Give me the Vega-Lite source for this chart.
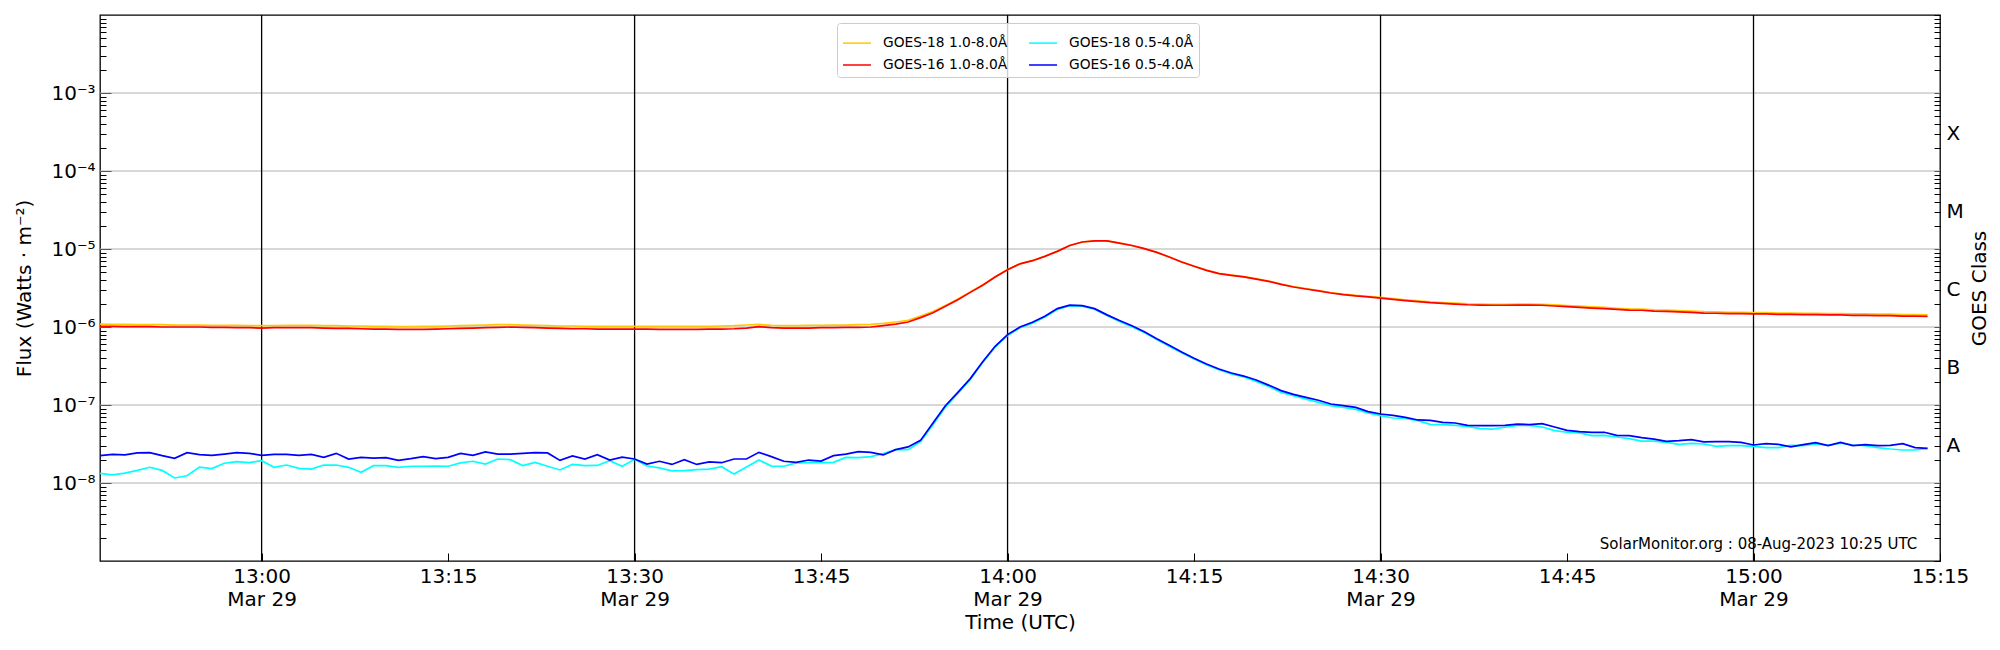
{
  "$schema": "https://vega.github.io/schema/vega-lite/v6.json",
  "width": 1840,
  "height": 546,
  "autosize": {"type": "none"},
  "padding": {"left": 100, "top": 15, "right": 60, "bottom": 89},
  "background": "white",
  "layer": [
    {
      "data": {"values": [{"g": 1e-8}, {"g": 1e-7}, {"g": 1e-6}, {"g": 1e-5}, {"g": 1e-4}, {"g": 1e-3}]},
      "mark": {"type": "rule", "color": "#b0b0b0", "strokeWidth": 1},
      "encoding": {
        "y": {
          "field": "g",
          "type": "quantitative",
          "scale": {"type": "log", "domain": [1e-9, 1e-2], "nice": false},
          "axis": {
            "orient": "left",
            "offset": 0,
            "title": null,
            "labels": false,
            "tickSize": -6,
            "values": [2e-9, 3e-9, 4e-9, 5e-9, 6e-9, 7e-9, 8e-9, 9e-9, 2e-8, 3e-8, 4e-8, 5e-8, 6e-8, 7e-8, 8e-8, 9e-8, 2e-7, 3e-7, 4e-7, 5e-7, 6e-7, 7e-7, 8e-7, 9e-7, 2e-6, 3e-6, 4e-6, 5e-6, 6e-6, 7e-6, 8e-6, 9e-6, 2e-5, 3e-5, 4e-5, 5e-5, 6e-5, 7e-5, 8e-5, 9e-5, 2e-4, 3e-4, 4e-4, 5e-4, 6e-4, 7e-4, 8e-4, 9e-4, 2e-3, 3e-3, 4e-3, 5e-3, 6e-3, 7e-3, 8e-3, 9e-3]
          }
        }
      }
    },
    {
      "data": {
        "values": [
          {"v": "2023-03-29T13:00:00Z"},
          {"v": "2023-03-29T13:30:00Z"},
          {"v": "2023-03-29T14:00:00Z"},
          {"v": "2023-03-29T14:30:00Z"},
          {"v": "2023-03-29T15:00:00Z"}
        ]
      },
      "mark": {"type": "rule", "color": "black", "strokeWidth": 1.3},
      "encoding": {
        "x": {
          "field": "v",
          "type": "temporal",
          "scale": {"type": "utc", "domain": [1680094020000, 1680102900000], "nice": false},
          "axis": null
        }
      }
    },
    {
      "data": {
        "values": [
          {"t": "2023-03-29T12:47:00Z", "g18l": 1.09e-6, "g16l": 1.02e-6, "g18s": 1.33e-8, "g16s": 2.24e-8},
          {"t": "2023-03-29T12:48:00Z", "g18l": 1.08e-6, "g16l": 1.02e-6, "g18s": 1.27e-8, "g16s": 2.33e-8},
          {"t": "2023-03-29T12:49:00Z", "g18l": 1.08e-6, "g16l": 1.01e-6, "g18s": 1.34e-8, "g16s": 2.29e-8},
          {"t": "2023-03-29T12:50:00Z", "g18l": 1.07e-6, "g16l": 1.01e-6, "g18s": 1.45e-8, "g16s": 2.43e-8},
          {"t": "2023-03-29T12:51:00Z", "g18l": 1.07e-6, "g16l": 1.01e-6, "g18s": 1.59e-8, "g16s": 2.45e-8},
          {"t": "2023-03-29T12:52:00Z", "g18l": 1.07e-6, "g16l": 1.00e-6, "g18s": 1.45e-8, "g16s": 2.24e-8},
          {"t": "2023-03-29T12:53:00Z", "g18l": 1.06e-6, "g16l": 1.00e-6, "g18s": 1.16e-8, "g16s": 2.07e-8},
          {"t": "2023-03-29T12:54:00Z", "g18l": 1.06e-6, "g16l": 1.00e-6, "g18s": 1.24e-8, "g16s": 2.45e-8},
          {"t": "2023-03-29T12:55:00Z", "g18l": 1.06e-6, "g16l": 1.00e-6, "g18s": 1.60e-8, "g16s": 2.31e-8},
          {"t": "2023-03-29T12:56:00Z", "g18l": 1.05e-6, "g16l": 0.99e-6, "g18s": 1.53e-8, "g16s": 2.26e-8},
          {"t": "2023-03-29T12:57:00Z", "g18l": 1.05e-6, "g16l": 0.99e-6, "g18s": 1.79e-8, "g16s": 2.35e-8},
          {"t": "2023-03-29T12:58:00Z", "g18l": 1.05e-6, "g16l": 0.98e-6, "g18s": 1.88e-8, "g16s": 2.45e-8},
          {"t": "2023-03-29T12:59:00Z", "g18l": 1.04e-6, "g16l": 0.98e-6, "g18s": 1.82e-8, "g16s": 2.40e-8},
          {"t": "2023-03-29T13:00:00Z", "g18l": 1.04e-6, "g16l": 0.97e-6, "g18s": 1.93e-8, "g16s": 2.26e-8},
          {"t": "2023-03-29T13:01:00Z", "g18l": 1.04e-6, "g16l": 0.98e-6, "g18s": 1.59e-8, "g16s": 2.33e-8},
          {"t": "2023-03-29T13:02:00Z", "g18l": 1.05e-6, "g16l": 0.98e-6, "g18s": 1.70e-8, "g16s": 2.33e-8},
          {"t": "2023-03-29T13:03:00Z", "g18l": 1.05e-6, "g16l": 0.98e-6, "g18s": 1.54e-8, "g16s": 2.26e-8},
          {"t": "2023-03-29T13:04:00Z", "g18l": 1.05e-6, "g16l": 0.98e-6, "g18s": 1.51e-8, "g16s": 2.33e-8},
          {"t": "2023-03-29T13:05:00Z", "g18l": 1.04e-6, "g16l": 0.97e-6, "g18s": 1.70e-8, "g16s": 2.13e-8},
          {"t": "2023-03-29T13:06:00Z", "g18l": 1.04e-6, "g16l": 0.96e-6, "g18s": 1.70e-8, "g16s": 2.40e-8},
          {"t": "2023-03-29T13:07:00Z", "g18l": 1.03e-6, "g16l": 0.96e-6, "g18s": 1.59e-8, "g16s": 2.03e-8},
          {"t": "2023-03-29T13:08:00Z", "g18l": 1.03e-6, "g16l": 0.95e-6, "g18s": 1.37e-8, "g16s": 2.13e-8},
          {"t": "2023-03-29T13:09:00Z", "g18l": 1.02e-6, "g16l": 0.94e-6, "g18s": 1.67e-8, "g16s": 2.09e-8},
          {"t": "2023-03-29T13:10:00Z", "g18l": 1.02e-6, "g16l": 0.94e-6, "g18s": 1.67e-8, "g16s": 2.11e-8},
          {"t": "2023-03-29T13:11:00Z", "g18l": 1.01e-6, "g16l": 0.93e-6, "g18s": 1.59e-8, "g16s": 1.95e-8},
          {"t": "2023-03-29T13:12:00Z", "g18l": 1.01e-6, "g16l": 0.93e-6, "g18s": 1.64e-8, "g16s": 2.05e-8},
          {"t": "2023-03-29T13:13:00Z", "g18l": 1.02e-6, "g16l": 0.93e-6, "g18s": 1.64e-8, "g16s": 2.18e-8},
          {"t": "2023-03-29T13:14:00Z", "g18l": 1.02e-6, "g16l": 0.94e-6, "g18s": 1.65e-8, "g16s": 2.05e-8},
          {"t": "2023-03-29T13:15:00Z", "g18l": 1.03e-6, "g16l": 0.95e-6, "g18s": 1.64e-8, "g16s": 2.13e-8},
          {"t": "2023-03-29T13:16:00Z", "g18l": 1.04e-6, "g16l": 0.96e-6, "g18s": 1.81e-8, "g16s": 2.40e-8},
          {"t": "2023-03-29T13:17:00Z", "g18l": 1.05e-6, "g16l": 0.97e-6, "g18s": 1.90e-8, "g16s": 2.26e-8},
          {"t": "2023-03-29T13:18:00Z", "g18l": 1.06e-6, "g16l": 0.98e-6, "g18s": 1.75e-8, "g16s": 2.50e-8},
          {"t": "2023-03-29T13:19:00Z", "g18l": 1.07e-6, "g16l": 0.99e-6, "g18s": 2.03e-8, "g16s": 2.35e-8},
          {"t": "2023-03-29T13:20:00Z", "g18l": 1.07e-6, "g16l": 1.00e-6, "g18s": 1.99e-8, "g16s": 2.35e-8},
          {"t": "2023-03-29T13:21:00Z", "g18l": 1.06e-6, "g16l": 0.99e-6, "g18s": 1.67e-8, "g16s": 2.40e-8},
          {"t": "2023-03-29T13:22:00Z", "g18l": 1.05e-6, "g16l": 0.98e-6, "g18s": 1.84e-8, "g16s": 2.45e-8},
          {"t": "2023-03-29T13:23:00Z", "g18l": 1.04e-6, "g16l": 0.97e-6, "g18s": 1.64e-8, "g16s": 2.43e-8},
          {"t": "2023-03-29T13:24:00Z", "g18l": 1.03e-6, "g16l": 0.96e-6, "g18s": 1.47e-8, "g16s": 1.95e-8},
          {"t": "2023-03-29T13:25:00Z", "g18l": 1.03e-6, "g16l": 0.95e-6, "g18s": 1.73e-8, "g16s": 2.22e-8},
          {"t": "2023-03-29T13:26:00Z", "g18l": 1.02e-6, "g16l": 0.95e-6, "g18s": 1.67e-8, "g16s": 2.03e-8},
          {"t": "2023-03-29T13:27:00Z", "g18l": 1.02e-6, "g16l": 0.94e-6, "g18s": 1.68e-8, "g16s": 2.31e-8},
          {"t": "2023-03-29T13:28:00Z", "g18l": 1.02e-6, "g16l": 0.94e-6, "g18s": 1.93e-8, "g16s": 1.97e-8},
          {"t": "2023-03-29T13:29:00Z", "g18l": 1.02e-6, "g16l": 0.94e-6, "g18s": 1.64e-8, "g16s": 2.15e-8},
          {"t": "2023-03-29T13:30:00Z", "g18l": 1.02e-6, "g16l": 0.94e-6, "g18s": 2.01e-8, "g16s": 2.03e-8},
          {"t": "2023-03-29T13:31:00Z", "g18l": 1.02e-6, "g16l": 0.94e-6, "g18s": 1.65e-8, "g16s": 1.75e-8},
          {"t": "2023-03-29T13:32:00Z", "g18l": 1.02e-6, "g16l": 0.93e-6, "g18s": 1.56e-8, "g16s": 1.90e-8},
          {"t": "2023-03-29T13:33:00Z", "g18l": 1.02e-6, "g16l": 0.93e-6, "g18s": 1.43e-8, "g16s": 1.73e-8},
          {"t": "2023-03-29T13:34:00Z", "g18l": 1.02e-6, "g16l": 0.93e-6, "g18s": 1.44e-8, "g16s": 1.99e-8},
          {"t": "2023-03-29T13:35:00Z", "g18l": 1.02e-6, "g16l": 0.93e-6, "g18s": 1.48e-8, "g16s": 1.73e-8},
          {"t": "2023-03-29T13:36:00Z", "g18l": 1.02e-6, "g16l": 0.94e-6, "g18s": 1.51e-8, "g16s": 1.86e-8},
          {"t": "2023-03-29T13:37:00Z", "g18l": 1.03e-6, "g16l": 0.94e-6, "g18s": 1.62e-8, "g16s": 1.82e-8},
          {"t": "2023-03-29T13:38:00Z", "g18l": 1.04e-6, "g16l": 0.95e-6, "g18s": 1.30e-8, "g16s": 2.03e-8},
          {"t": "2023-03-29T13:39:00Z", "g18l": 1.06e-6, "g16l": 0.97e-6, "g18s": 1.60e-8, "g16s": 2.03e-8},
          {"t": "2023-03-29T13:40:00Z", "g18l": 1.08e-6, "g16l": 1.01e-6, "g18s": 1.97e-8, "g16s": 2.47e-8},
          {"t": "2023-03-29T13:41:00Z", "g18l": 1.05e-6, "g16l": 0.98e-6, "g18s": 1.65e-8, "g16s": 2.18e-8},
          {"t": "2023-03-29T13:42:00Z", "g18l": 1.04e-6, "g16l": 0.97e-6, "g18s": 1.64e-8, "g16s": 1.90e-8},
          {"t": "2023-03-29T13:43:00Z", "g18l": 1.04e-6, "g16l": 0.97e-6, "g18s": 1.81e-8, "g16s": 1.84e-8},
          {"t": "2023-03-29T13:44:00Z", "g18l": 1.05e-6, "g16l": 0.97e-6, "g18s": 1.82e-8, "g16s": 1.97e-8},
          {"t": "2023-03-29T13:45:00Z", "g18l": 1.05e-6, "g16l": 0.98e-6, "g18s": 1.82e-8, "g16s": 1.91e-8},
          {"t": "2023-03-29T13:46:00Z", "g18l": 1.06e-6, "g16l": 0.98e-6, "g18s": 1.84e-8, "g16s": 2.24e-8},
          {"t": "2023-03-29T13:47:00Z", "g18l": 1.06e-6, "g16l": 0.99e-6, "g18s": 2.13e-8, "g16s": 2.35e-8},
          {"t": "2023-03-29T13:48:00Z", "g18l": 1.07e-6, "g16l": 0.99e-6, "g18s": 2.11e-8, "g16s": 2.52e-8},
          {"t": "2023-03-29T13:49:00Z", "g18l": 1.08e-6, "g16l": 1.00e-6, "g18s": 2.18e-8, "g16s": 2.47e-8},
          {"t": "2023-03-29T13:50:00Z", "g18l": 1.11e-6, "g16l": 1.04e-6, "g18s": 2.38e-8, "g16s": 2.29e-8},
          {"t": "2023-03-29T13:51:00Z", "g18l": 1.16e-6, "g16l": 1.09e-6, "g18s": 2.68e-8, "g16s": 2.68e-8},
          {"t": "2023-03-29T13:52:00Z", "g18l": 1.22e-6, "g16l": 1.16e-6, "g18s": 2.68e-8, "g16s": 2.90e-8},
          {"t": "2023-03-29T13:53:00Z", "g18l": 1.38e-6, "g16l": 1.32e-6, "g18s": 3.39e-8, "g16s": 3.52e-8},
          {"t": "2023-03-29T13:54:00Z", "g18l": 1.58e-6, "g16l": 1.52e-6, "g18s": 5.60e-8, "g16s": 5.88e-8},
          {"t": "2023-03-29T13:55:00Z", "g18l": 1.89e-6, "g16l": 1.84e-6, "g18s": 9.40e-8, "g16s": 9.80e-8},
          {"t": "2023-03-29T13:56:00Z", "g18l": 2.28e-6, "g16l": 2.24e-6, "g18s": 1.41e-7, "g16s": 1.45e-7},
          {"t": "2023-03-29T13:57:00Z", "g18l": 2.82e-6, "g16l": 2.78e-6, "g18s": 2.12e-7, "g16s": 2.18e-7},
          {"t": "2023-03-29T13:58:00Z", "g18l": 3.47e-6, "g16l": 3.43e-6, "g18s": 3.50e-7, "g16s": 3.59e-7},
          {"t": "2023-03-29T13:59:00Z", "g18l": 4.40e-6, "g16l": 4.37e-6, "g18s": 5.50e-7, "g16s": 5.65e-7},
          {"t": "2023-03-29T14:00:00Z", "g18l": 5.46e-6, "g16l": 5.43e-6, "g18s": 7.80e-7, "g16s": 7.98e-7},
          {"t": "2023-03-29T14:01:00Z", "g18l": 6.48e-6, "g16l": 6.45e-6, "g18s": 9.80e-7, "g16s": 1.00e-6},
          {"t": "2023-03-29T14:02:00Z", "g18l": 7.10e-6, "g16l": 7.08e-6, "g18s": 1.12e-6, "g16s": 1.15e-6},
          {"t": "2023-03-29T14:03:00Z", "g18l": 8.07e-6, "g16l": 8.05e-6, "g18s": 1.34e-6, "g16s": 1.37e-6},
          {"t": "2023-03-29T14:04:00Z", "g18l": 9.35e-6, "g16l": 9.33e-6, "g18s": 1.68e-6, "g16s": 1.72e-6},
          {"t": "2023-03-29T14:05:00Z", "g18l": 1.11e-5, "g16l": 1.11e-5, "g18s": 1.87e-6, "g16s": 1.91e-6},
          {"t": "2023-03-29T14:06:00Z", "g18l": 1.23e-5, "g16l": 1.23e-5, "g18s": 1.85e-6, "g16s": 1.88e-6},
          {"t": "2023-03-29T14:07:00Z", "g18l": 1.27e-5, "g16l": 1.27e-5, "g18s": 1.69e-6, "g16s": 1.72e-6},
          {"t": "2023-03-29T14:08:00Z", "g18l": 1.27e-5, "g16l": 1.27e-5, "g18s": 1.40e-6, "g16s": 1.43e-6},
          {"t": "2023-03-29T14:09:00Z", "g18l": 1.19e-5, "g16l": 1.19e-5, "g18s": 1.18e-6, "g16s": 1.21e-6},
          {"t": "2023-03-29T14:10:00Z", "g18l": 1.11e-5, "g16l": 1.11e-5, "g18s": 1.01e-6, "g16s": 1.04e-6},
          {"t": "2023-03-29T14:11:00Z", "g18l": 1.01e-5, "g16l": 1.01e-5, "g18s": 8.50e-7, "g16s": 8.71e-7},
          {"t": "2023-03-29T14:12:00Z", "g18l": 9.08e-6, "g16l": 9.06e-6, "g18s": 6.90e-7, "g16s": 7.08e-7},
          {"t": "2023-03-29T14:13:00Z", "g18l": 7.91e-6, "g16l": 7.89e-6, "g18s": 5.68e-7, "g16s": 5.82e-7},
          {"t": "2023-03-29T14:14:00Z", "g18l": 6.83e-6, "g16l": 6.81e-6, "g18s": 4.66e-7, "g16s": 4.78e-7},
          {"t": "2023-03-29T14:15:00Z", "g18l": 6.02e-6, "g16l": 6.00e-6, "g18s": 3.88e-7, "g16s": 3.97e-7},
          {"t": "2023-03-29T14:16:00Z", "g18l": 5.36e-6, "g16l": 5.33e-6, "g18s": 3.28e-7, "g16s": 3.36e-7},
          {"t": "2023-03-29T14:17:00Z", "g18l": 4.86e-6, "g16l": 4.83e-6, "g18s": 2.83e-7, "g16s": 2.90e-7},
          {"t": "2023-03-29T14:18:00Z", "g18l": 4.63e-6, "g16l": 4.60e-6, "g18s": 2.51e-7, "g16s": 2.57e-7},
          {"t": "2023-03-29T14:19:00Z", "g18l": 4.42e-6, "g16l": 4.38e-6, "g18s": 2.29e-7, "g16s": 2.35e-7},
          {"t": "2023-03-29T14:20:00Z", "g18l": 4.16e-6, "g16l": 4.12e-6, "g18s": 2.01e-7, "g16s": 2.09e-7},
          {"t": "2023-03-29T14:21:00Z", "g18l": 3.89e-6, "g16l": 3.85e-6, "g18s": 1.73e-7, "g16s": 1.80e-7},
          {"t": "2023-03-29T14:22:00Z", "g18l": 3.56e-6, "g16l": 3.52e-6, "g18s": 1.45e-7, "g16s": 1.53e-7},
          {"t": "2023-03-29T14:23:00Z", "g18l": 3.30e-6, "g16l": 3.26e-6, "g18s": 1.32e-7, "g16s": 1.37e-7},
          {"t": "2023-03-29T14:24:00Z", "g18l": 3.11e-6, "g16l": 3.07e-6, "g18s": 1.19e-7, "g16s": 1.25e-7},
          {"t": "2023-03-29T14:25:00Z", "g18l": 2.94e-6, "g16l": 2.90e-6, "g18s": 1.08e-7, "g16s": 1.15e-7},
          {"t": "2023-03-29T14:26:00Z", "g18l": 2.77e-6, "g16l": 2.73e-6, "g18s": 9.80e-8, "g16s": 1.03e-7},
          {"t": "2023-03-29T14:27:00Z", "g18l": 2.64e-6, "g16l": 2.60e-6, "g18s": 9.33e-8, "g16s": 9.80e-8},
          {"t": "2023-03-29T14:28:00Z", "g18l": 2.55e-6, "g16l": 2.50e-6, "g18s": 8.79e-8, "g16s": 9.33e-8},
          {"t": "2023-03-29T14:29:00Z", "g18l": 2.48e-6, "g16l": 2.43e-6, "g18s": 7.89e-8, "g16s": 8.22e-8},
          {"t": "2023-03-29T14:30:00Z", "g18l": 2.40e-6, "g16l": 2.35e-6, "g18s": 7.30e-8, "g16s": 7.67e-8},
          {"t": "2023-03-29T14:31:00Z", "g18l": 2.31e-6, "g16l": 2.26e-6, "g18s": 6.81e-8, "g16s": 7.38e-8},
          {"t": "2023-03-29T14:32:00Z", "g18l": 2.23e-6, "g16l": 2.18e-6, "g18s": 6.75e-8, "g16s": 6.95e-8},
          {"t": "2023-03-29T14:33:00Z", "g18l": 2.16e-6, "g16l": 2.11e-6, "g18s": 6.30e-8, "g16s": 6.43e-8},
          {"t": "2023-03-29T14:34:00Z", "g18l": 2.10e-6, "g16l": 2.05e-6, "g18s": 5.65e-8, "g16s": 6.36e-8},
          {"t": "2023-03-29T14:35:00Z", "g18l": 2.06e-6, "g16l": 2.01e-6, "g18s": 5.60e-8, "g16s": 6.00e-8},
          {"t": "2023-03-29T14:36:00Z", "g18l": 2.02e-6, "g16l": 1.97e-6, "g18s": 5.48e-8, "g16s": 5.88e-8},
          {"t": "2023-03-29T14:37:00Z", "g18l": 1.98e-6, "g16l": 1.93e-6, "g18s": 5.32e-8, "g16s": 5.48e-8},
          {"t": "2023-03-29T14:38:00Z", "g18l": 1.96e-6, "g16l": 1.91e-6, "g18s": 4.98e-8, "g16s": 5.43e-8},
          {"t": "2023-03-29T14:39:00Z", "g18l": 1.95e-6, "g16l": 1.90e-6, "g18s": 4.92e-8, "g16s": 5.43e-8},
          {"t": "2023-03-29T14:40:00Z", "g18l": 1.95e-6, "g16l": 1.90e-6, "g18s": 5.18e-8, "g16s": 5.48e-8},
          {"t": "2023-03-29T14:41:00Z", "g18l": 1.96e-6, "g16l": 1.91e-6, "g18s": 5.48e-8, "g16s": 5.70e-8},
          {"t": "2023-03-29T14:42:00Z", "g18l": 1.96e-6, "g16l": 1.91e-6, "g18s": 5.48e-8, "g16s": 5.60e-8},
          {"t": "2023-03-29T14:43:00Z", "g18l": 1.95e-6, "g16l": 1.90e-6, "g18s": 5.22e-8, "g16s": 5.77e-8},
          {"t": "2023-03-29T14:44:00Z", "g18l": 1.92e-6, "g16l": 1.86e-6, "g18s": 4.69e-8, "g16s": 5.22e-8},
          {"t": "2023-03-29T14:45:00Z", "g18l": 1.88e-6, "g16l": 1.82e-6, "g18s": 4.47e-8, "g16s": 4.73e-8},
          {"t": "2023-03-29T14:46:00Z", "g18l": 1.85e-6, "g16l": 1.79e-6, "g18s": 4.38e-8, "g16s": 4.55e-8},
          {"t": "2023-03-29T14:47:00Z", "g18l": 1.81e-6, "g16l": 1.75e-6, "g18s": 4.05e-8, "g16s": 4.47e-8},
          {"t": "2023-03-29T14:48:00Z", "g18l": 1.78e-6, "g16l": 1.72e-6, "g18s": 4.08e-8, "g16s": 4.47e-8},
          {"t": "2023-03-29T14:49:00Z", "g18l": 1.74e-6, "g16l": 1.68e-6, "g18s": 3.89e-8, "g16s": 4.08e-8},
          {"t": "2023-03-29T14:50:00Z", "g18l": 1.71e-6, "g16l": 1.65e-6, "g18s": 3.70e-8, "g16s": 4.05e-8},
          {"t": "2023-03-29T14:51:00Z", "g18l": 1.70e-6, "g16l": 1.64e-6, "g18s": 3.45e-8, "g16s": 3.81e-8},
          {"t": "2023-03-29T14:52:00Z", "g18l": 1.66e-6, "g16l": 1.60e-6, "g18s": 3.45e-8, "g16s": 3.66e-8},
          {"t": "2023-03-29T14:53:00Z", "g18l": 1.65e-6, "g16l": 1.59e-6, "g18s": 3.32e-8, "g16s": 3.42e-8},
          {"t": "2023-03-29T14:54:00Z", "g18l": 1.62e-6, "g16l": 1.56e-6, "g18s": 3.13e-8, "g16s": 3.49e-8},
          {"t": "2023-03-29T14:55:00Z", "g18l": 1.60e-6, "g16l": 1.54e-6, "g18s": 3.23e-8, "g16s": 3.60e-8},
          {"t": "2023-03-29T14:56:00Z", "g18l": 1.57e-6, "g16l": 1.51e-6, "g18s": 3.16e-8, "g16s": 3.36e-8},
          {"t": "2023-03-29T14:57:00Z", "g18l": 1.56e-6, "g16l": 1.50e-6, "g18s": 2.95e-8, "g16s": 3.39e-8},
          {"t": "2023-03-29T14:58:00Z", "g18l": 1.54e-6, "g16l": 1.48e-6, "g18s": 3.01e-8, "g16s": 3.39e-8},
          {"t": "2023-03-29T14:59:00Z", "g18l": 1.54e-6, "g16l": 1.48e-6, "g18s": 3.01e-8, "g16s": 3.32e-8},
          {"t": "2023-03-29T15:00:00Z", "g18l": 1.53e-6, "g16l": 1.47e-6, "g18s": 2.95e-8, "g16s": 3.07e-8},
          {"t": "2023-03-29T15:01:00Z", "g18l": 1.53e-6, "g16l": 1.47e-6, "g18s": 2.84e-8, "g16s": 3.19e-8},
          {"t": "2023-03-29T15:02:00Z", "g18l": 1.51e-6, "g16l": 1.45e-6, "g18s": 2.84e-8, "g16s": 3.13e-8},
          {"t": "2023-03-29T15:03:00Z", "g18l": 1.51e-6, "g16l": 1.45e-6, "g18s": 3.04e-8, "g16s": 2.90e-8},
          {"t": "2023-03-29T15:04:00Z", "g18l": 1.50e-6, "g16l": 1.44e-6, "g18s": 3.01e-8, "g16s": 3.10e-8},
          {"t": "2023-03-29T15:05:00Z", "g18l": 1.50e-6, "g16l": 1.44e-6, "g18s": 3.16e-8, "g16s": 3.29e-8},
          {"t": "2023-03-29T15:06:00Z", "g18l": 1.49e-6, "g16l": 1.43e-6, "g18s": 3.04e-8, "g16s": 3.01e-8},
          {"t": "2023-03-29T15:07:00Z", "g18l": 1.49e-6, "g16l": 1.43e-6, "g18s": 3.23e-8, "g16s": 3.32e-8},
          {"t": "2023-03-29T15:08:00Z", "g18l": 1.47e-6, "g16l": 1.41e-6, "g18s": 3.07e-8, "g16s": 3.01e-8},
          {"t": "2023-03-29T15:09:00Z", "g18l": 1.47e-6, "g16l": 1.41e-6, "g18s": 3.01e-8, "g16s": 3.10e-8},
          {"t": "2023-03-29T15:10:00Z", "g18l": 1.46e-6, "g16l": 1.40e-6, "g18s": 2.84e-8, "g16s": 3.01e-8},
          {"t": "2023-03-29T15:11:00Z", "g18l": 1.46e-6, "g16l": 1.40e-6, "g18s": 2.73e-8, "g16s": 3.04e-8},
          {"t": "2023-03-29T15:12:00Z", "g18l": 1.44e-6, "g16l": 1.38e-6, "g18s": 2.65e-8, "g16s": 3.19e-8},
          {"t": "2023-03-29T15:13:00Z", "g18l": 1.44e-6, "g16l": 1.38e-6, "g18s": 2.65e-8, "g16s": 2.84e-8},
          {"t": "2023-03-29T15:14:00Z", "g18l": 1.43e-6, "g16l": 1.37e-6, "g18s": 2.78e-8, "g16s": 2.78e-8}
        ]
      },
      "transform": [
        {"fold": ["g18l", "g16l", "g18s", "g16s"], "as": ["series", "flux"]}
      ],
      "mark": {"type": "line", "strokeWidth": 1.7},
      "encoding": {
        "x": {
          "field": "t",
          "type": "temporal",
          "scale": {"type": "utc", "domain": [1680094020000, 1680102900000], "nice": false},
          "axis": {
            "orient": "bottom",
            "offset": 0,
            "title": null,
            "values": [1680094800000, 1680095700000, 1680096600000, 1680097500000, 1680098400000, 1680099300000, 1680100200000, 1680101100000, 1680102000000, 1680102900000],
            "labelExpr": "utcFormat(datum.value, '%H:%M')",
            "tickSize": -8,
            "labelPadding": 13
          }
        },
        "y": {
          "field": "flux",
          "type": "quantitative",
          "scale": {"type": "log", "domain": [1e-9, 1e-2], "nice": false},
          "axis": {
            "orient": "left",
            "offset": 0,
            "title": "Flux (Watts · m⁻²)",
            "titlePadding": 16,
            "values": [1e-8, 1e-7, 1e-6, 1e-5, 1e-4, 1e-3],
            "labelExpr": "round(log(datum.value) / LN10) == -3 ? '10⁻³' : round(log(datum.value) / LN10) == -4 ? '10⁻⁴' : round(log(datum.value) / LN10) == -5 ? '10⁻⁵' : round(log(datum.value) / LN10) == -6 ? '10⁻⁶' : round(log(datum.value) / LN10) == -7 ? '10⁻⁷' : '10⁻⁸'",
            "tickSize": -11,
            "labelPadding": 16
          }
        },
        "color": {
          "field": "series",
          "type": "nominal",
          "scale": {
            "domain": ["g18l", "g18s", "g16l", "g16s"],
            "range": ["#ffc800", "#00ffff", "#ff0000", "#0000ff"]
          },
          "legend": {
            "orient": "none",
            "legendX": 737,
            "legendY": 8,
            "direction": "horizontal",
            "columns": 2,
            "title": null,
            "symbolType": "stroke",
            "symbolSize": 784,
            "symbolStrokeWidth": 1.5,
            "labelFontSize": 13.8,
            "labelOffset": 11,
            "columnPadding": 18,
            "rowPadding": 0,
            "padding": 5,
            "strokeColor": "#cccccc",
            "fillColor": "rgba(255,255,255,0.8)",
            "cornerRadius": 3,
            "labelExpr": "datum.label == 'g18l' ? 'GOES-18 1.0-8.0Å' : datum.label == 'g16l' ? 'GOES-16 1.0-8.0Å' : datum.label == 'g18s' ? 'GOES-18 0.5-4.0Å' : 'GOES-16 0.5-4.0Å'"
          }
        }
      }
    },
    {
      "data": {
        "values": [
          {"t": "2023-03-29T15:13:10Z", "f": 1.43e-9, "note": "SolarMonitor.org : 08-Aug-2023 10:25 UTC"}
        ]
      },
      "mark": {"type": "text", "align": "right", "baseline": "alphabetic", "fontSize": 15, "color": "black"},
      "encoding": {
        "x": {
          "field": "t",
          "type": "temporal",
          "scale": {"type": "utc", "domain": [1680094020000, 1680102900000], "nice": false},
          "axis": {
            "orient": "bottom",
            "offset": 0,
            "title": "Time (UTC)",
            "titlePadding": 3,
            "values": [1680094800000, 1680096600000, 1680098400000, 1680100200000, 1680102000000],
            "labelExpr": "utcFormat(datum.value, '%b %d')",
            "ticks": false,
            "labelPadding": 28
          }
        },
        "y": {
          "field": "f",
          "type": "quantitative",
          "scale": {"type": "log", "domain": [1e-9, 1e-2], "nice": false},
          "axis": {
            "orient": "right",
            "offset": 0,
            "title": "GOES Class",
            "titleAngle": 270,
            "titlePadding": 26,
            "values": [1e-9, 2e-9, 3e-9, 4e-9, 5e-9, 6e-9, 7e-9, 8e-9, 9e-9, 1e-8, 2e-8, 3e-8, 4e-8, 5e-8, 6e-8, 7e-8, 8e-8, 9e-8, 1e-7, 2e-7, 3e-7, 4e-7, 5e-7, 6e-7, 7e-7, 8e-7, 9e-7, 1e-6, 2e-6, 3e-6, 4e-6, 5e-6, 6e-6, 7e-6, 8e-6, 9e-6, 1e-5, 2e-5, 3e-5, 4e-5, 5e-5, 6e-5, 7e-5, 8e-5, 9e-5, 1e-4, 2e-4, 3e-4, 4e-4, 5e-4, 6e-4, 7e-4, 8e-4, 9e-4, 1e-3, 2e-3, 3e-3, 4e-3, 5e-3, 6e-3, 7e-3, 8e-3, 9e-3, 1e-2],
            "labelExpr": "abs(datum.value / pow(10, floor(log(datum.value) / LN10 + 1e-9)) - 3) < 0.01 ? (floor(log(datum.value) / LN10 + 1e-9) == -8 ? 'A' : floor(log(datum.value) / LN10 + 1e-9) == -7 ? 'B' : floor(log(datum.value) / LN10 + 1e-9) == -6 ? 'C' : floor(log(datum.value) / LN10 + 1e-9) == -5 ? 'M' : floor(log(datum.value) / LN10 + 1e-9) == -4 ? 'X' : '') : ''",
            "tickSize": -6,
            "labelPadding": 12
          }
        },
        "text": {"field": "note"}
      }
    }
  ],
  "resolve": {"axis": {"x": "independent", "y": "independent"}},
  "config": {
    "font": "DejaVu Sans",
    "view": {"stroke": "black", "strokeWidth": 1.3},
    "axis": {
      "domain": false,
      "grid": false,
      "labelFontSize": 20,
      "labelColor": "black",
      "labelOverlap": false,
      "labelFlush": false,
      "labelBound": false,
      "tickColor": "black",
      "tickWidth": 1,
      "titleFontSize": 20,
      "titleFontWeight": "normal",
      "titleColor": "black"
    },
    "legend": {"labelColor": "black"}
  }
}
